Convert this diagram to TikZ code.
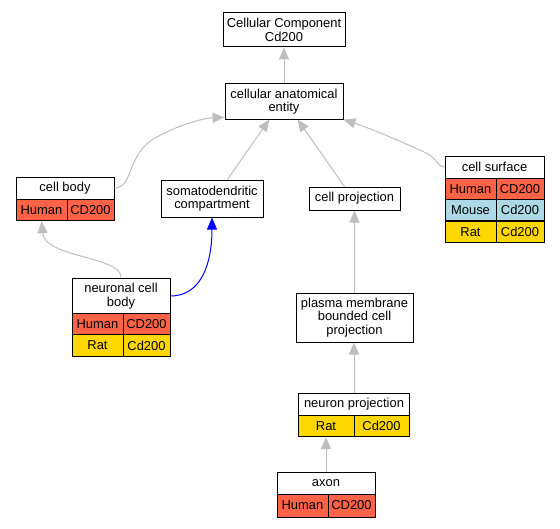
\documentclass[tikz,border=0pt]{standalone}
\usepackage{fontspec}
\setmainfont{Liberation Sans}
\usetikzlibrary{arrows.meta}
\definecolor{humancol}{RGB}{255,99,71}
\definecolor{mousecol}{RGB}{173,216,230}
\definecolor{ratcol}{RGB}{255,215,0}
\definecolor{isagray}{RGB}{190,190,190}
\tikzset{every picture/.style={line width=0.75pt}}
\tikzset{
  term/.style={draw, fill=white, inner sep=0pt, align=center, font=\fontsize{9.7}{10}\selectfont},
  human/.style={term, fill=humancol, minimum height=16pt},
  mouse/.style={term, fill=mousecol, minimum height=16pt},
  rat/.style={term, fill=ratcol, minimum height=16pt},
  isa/.style={draw=isagray, -{Triangle[length=9pt,width=7.5pt]}},
  isablue/.style={draw=blue, -{Triangle[length=9pt,width=7.5pt]}}
}

\begin{document}
\begin{tikzpicture}[x=0.75pt,y=0.75pt,yscale=-1]
\useasboundingbox (0,0) rectangle (560,528);

%Top terms
\node[term, minimum width=91.5pt, minimum height=25.5pt] (cc) at (284,30) {Cellular Component\\Cd200};
\node[term, minimum width=88.5pt, minimum height=26.25pt] (entity) at (284,101.5) {cellular anatomical\\entity};

%cell body
\node[term, minimum width=73.5pt, minimum height=16.5pt] (cellbody) at (65,188) {cell body};
\node[human, minimum width=38.25pt] (cellbodyh) at (41.5,210) {Human};
\node[human, minimum width=35.25pt] (cellbodyhg) at (90.5,210) {CD200};

%somatodendritic compartment
\node[term, minimum width=76.5pt, minimum height=27.75pt] (somato) at (212,198.5) {somatodendritic\\compartment};

%cell projection
\node[term, minimum width=68.25pt, minimum height=17.25pt] (cellproj) at (354.5,198.5) {cell projection};

%cell surface
\node[term, minimum width=74.25pt, minimum height=16.5pt] (surface) at (494.5,167) {cell surface};
\node[human, minimum width=38.25pt] (surfaceh) at (470.5,188.75) {Human};
\node[human, minimum width=36pt] (surfacehg) at (520,188.75) {CD200};
\node[mouse, minimum width=38.25pt] (surfacem) at (470.5,210.25) {Mouse};
\node[mouse, minimum width=36pt] (surfacemg) at (520,210.25) {Cd200};
\node[rat, minimum width=38.25pt] (surfacer) at (470.5,231.75) {Rat};
\node[rat, minimum width=36pt] (surfacerg) at (520,231.75) {Cd200};

%neuronal cell body
\node[term, minimum width=73.5pt, minimum height=27pt] (ncb) at (121,296) {neuronal cell\\body};
\node[human, minimum width=38.25pt] (ncbh) at (97.5,324.5) {Human};
\node[human, minimum width=35.25pt] (ncbhg) at (146.5,324.5) {CD200};
\node[rat, minimum width=38.25pt] (ncbr) at (97.5,345.5) {Rat};
\node[rat, minimum width=35.25pt] (ncbrg) at (146.5,345.5) {Cd200};

%plasma membrane bounded cell projection
\node[term, minimum width=87.75pt, minimum height=36.75pt] (plasma) at (354.5,317.5) {plasma membrane\\bounded cell\\projection};

%neuron projection
\node[term, minimum width=83.25pt, minimum height=16.5pt] (nproj) at (354,404) {neuron projection};
\node[rat, minimum width=42pt] (nprojr) at (326,426) {Rat};
\node[rat, minimum width=41.25pt] (nprojrg) at (381.5,426) {Cd200};

%axon
\node[term, minimum width=73.5pt, minimum height=16.5pt] (axon) at (326,483) {axon};
\node[human, minimum width=38.25pt, minimum height=17.25pt] (axonh) at (302.5,505.5) {Human};
\node[human, minimum width=35.25pt, minimum height=17.25pt] (axonhg) at (351.5,505.5) {CD200};

%is_a edges
\draw[isa] (entity.north) -- (cc.south);
\draw[isa] (cellbody.east) .. controls (134,187) and (126,155) .. (155,138) .. controls (180,124) and (205,118) .. (entity.195);
\draw[isa] (somato.51) -- (entity.231);
\draw[isa] (cellproj.130) -- (entity.307);
\draw[isa] (surface.west) .. controls (436,166) and (438,158) .. (424,152) .. controls (400,141) and (372,129) .. (entity.south east);
\draw[isa] (ncb.north) .. controls (121,256) and (45,258) .. (cellbodyh.south);
\draw[isablue] (ncb.east) .. controls (202,296) and (212,262) .. (somato.south);
\draw[isa] (plasma.north) -- (cellproj.south);
\draw[isa] (nproj.north) -- (plasma.south -| nproj.north);
\draw[isa] (axon.north) -- (nprojr.south);

\end{tikzpicture}
\end{document}
